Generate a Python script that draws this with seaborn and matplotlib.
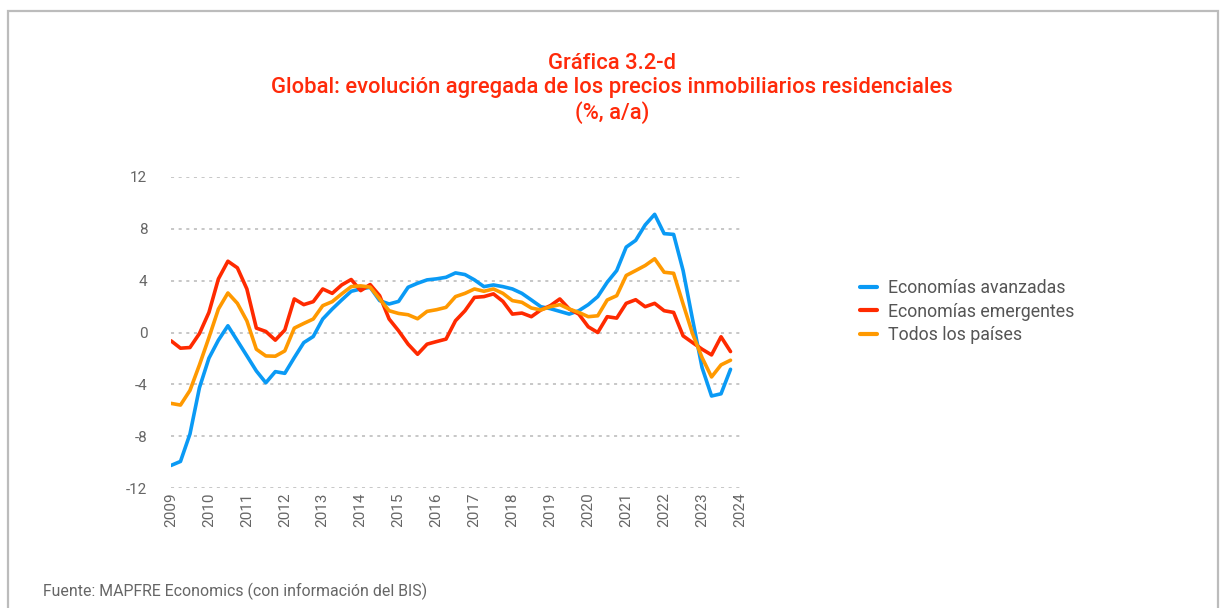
import numpy as np
import pandas as pd
import matplotlib
matplotlib.use("Agg")
import matplotlib.pyplot as plt
from matplotlib.patches import Rectangle
import seaborn as sns

# ---- data (quarterly, 2009T1 .. 2023T4) ----
anios = list(range(2009, 2024))
trimestres = [f"{a}T{q}" for a in anios for q in range(1, 5)]

avanzadas = [-10.26, -9.95, -7.83, -4.26, -1.98, -0.59, 0.52, -0.64, -1.8, -2.97,
             -3.88, -3.02, -3.15, -1.94, -0.78, -0.31, 1.04, 1.81, 2.51, 3.18,
             3.36, 3.49, 2.46, 2.2, 2.4, 3.49, 3.8, 4.06, 4.14, 4.26,
             4.6, 4.47, 4.06, 3.54, 3.67, 3.54, 3.36, 3.02, 2.51, 1.99,
             1.84, 1.63, 1.42, 1.68, 2.15, 2.77, 3.88, 4.78, 6.59, 7.11,
             8.3, 9.12, 7.63, 7.57, 4.78, 1.0, -2.71, -4.9, -4.73, -2.84]

emergentes = [-0.64, -1.21, -1.16, -0.08, 1.55, 4.14, 5.5, 4.99, 3.36, 0.34,
              0.08, -0.59, 0.19, 2.59, 2.15, 2.38, 3.36, 3.02, 3.67, 4.09,
              3.23, 3.7, 2.84, 1.04, 0.13, -0.9, -1.68, -0.9, -0.7, -0.51,
              0.91, 1.68, 2.71, 2.77, 2.98, 2.4, 1.42, 1.5, 1.22, 1.74,
              2.07, 2.59, 1.81, 1.42, 0.44, 0.0, 1.22, 1.11, 2.25, 2.53,
              1.99, 2.25, 1.68, 1.55, -0.26, -0.78, -1.29, -1.73, -0.33, -1.47]

todos = [-5.47, -5.6, -4.47, -2.5, -0.39, 1.81, 3.05, 2.25, 0.9, -1.29,
         -1.81, -1.83, -1.42, 0.34, 0.7, 1.04, 2.07, 2.38, 2.98, 3.54,
         3.6, 3.5, 2.59, 1.68, 1.47, 1.37, 1.06, 1.63, 1.76, 1.94,
         2.77, 3.02, 3.36, 3.18, 3.36, 3.02, 2.46, 2.33, 1.89, 1.74,
         1.99, 2.15, 1.81, 1.55, 1.22, 1.29, 2.51, 2.84, 4.4, 4.78,
         5.17, 5.69, 4.65, 4.57, 2.2, -0.1, -1.94, -3.43, -2.5, -2.14]

series = ["Economías avanzadas", "Economías emergentes", "Todos los países"]
colores = ["#0a9af5", "#ff2a00", "#ff9900"]
y_ticks = [-12, -8, -4, 0, 4, 8, 12]
x_ticks = list(range(2009, 2025))

titulo = ("Gráfica 3.2-d\n"
          "Global: evolución agregada de los precios inmobiliarios residenciales\n"
          "(%, a/a)")
fuente = "Fuente: MAPFRE Economics (con información del BIS)"

# ---- long-form table ----
def tpos(t):
    a, q = t.split("T")
    return int(a) + (int(q) - 1) / 4.0

x = [tpos(t) for t in trimestres]
df = pd.concat([
    pd.DataFrame({"fecha": x, "valor": v, "serie": s})
    for s, v in zip(series, [avanzadas, emergentes, todos])
], ignore_index=True)

sns.set_theme(style="white")
plt.rcParams["font.family"] = ["Roboto", "DejaVu Sans"]

W, H = 1224, 608
fig = plt.figure(figsize=(W / 100, H / 100), dpi=100)
ax = fig.add_axes([171 / W, 1 - 488 / H, (740 - 171) / W, (488 - 177) / H])

sns.lineplot(data=df, x="fecha", y="valor", hue="serie", hue_order=series,
             palette=dict(zip(series, colores)), linewidth=2.6, ax=ax,
             legend=True)

ax.set_xlim(2009, 2024)
ax.set_ylim(-12, 12)
ax.set_yticks(y_ticks)
ax.set_yticklabels([str(t) for t in y_ticks])
ax.set_xticks(x_ticks)
ax.set_xticklabels([str(t) for t in x_ticks], rotation=90)
ax.set_xlabel("")
ax.set_ylabel("")
for sp in ax.spines.values():
    sp.set_visible(False)
ax.grid(False)
for t in y_ticks:
    ax.axhline(t, color="#b8b8b8", lw=1.1, ls=(0, (2, 3)), zorder=0)
ax.tick_params(axis="y", length=0, pad=17, labelsize=11, labelcolor="#666666")
ax.tick_params(axis="x", length=0, pad=3, labelsize=11, labelcolor="#666666")

leg = ax.legend(loc="upper left", bbox_to_anchor=(860 / W, 1 - 279 / H),
                bbox_transform=fig.transFigure, frameon=False, fontsize=12.8,
                handlelength=0.95, handletextpad=0.65, labelspacing=0.32,
                borderaxespad=0, borderpad=0)
for txt in leg.get_texts():
    txt.set_color("#555555")
for line in leg.get_lines():
    line.set_linewidth(3)

fig.text(612 / W, 1 - 53 / H, titulo, ha="center", va="top", color="#ff2a0a",
         fontsize=15.8, fontweight="medium", linespacing=1.17)
fig.text(43 / W, 1 - 591 / H, fuente, ha="left", va="center", color="#666666",
         fontsize=11.4)

fig.patches.append(Rectangle((8 / W, -0.05), (1218 - 8) / W, 1.05 - 11 / H,
                             transform=fig.transFigure, fill=False,
                             edgecolor="#bcbcbc", lw=1.6, zorder=0))

fig.savefig("out.png", dpi=100)
